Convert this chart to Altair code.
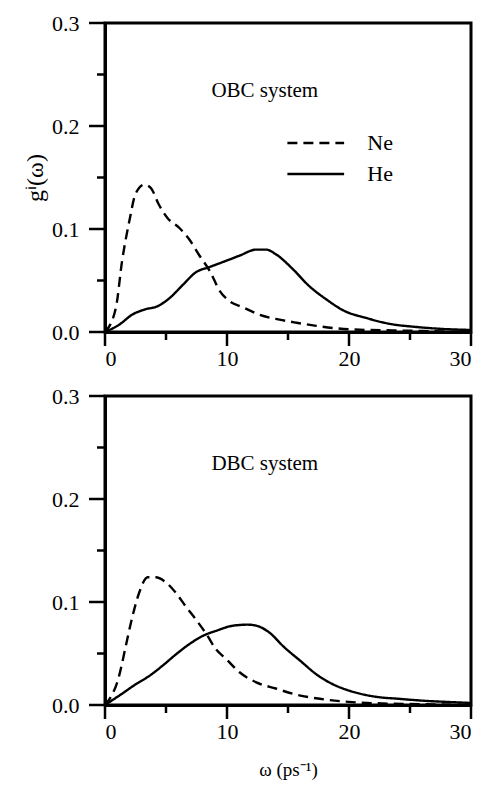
import altair as alt
import pandas as pd

FONT = "Liberation Serif"

# ---- data ----
x_major = [0, 10, 20, 30]
x_minor = [5, 15, 25]
y_major = [0.0, 0.1, 0.2, 0.3]
y_minor = [0.05, 0.15, 0.25]
series_names = ["Ne", "He"]
panel_labels = ["OBC system", "DBC system"]

ne_obc_w = [0, 0.9, 1.4, 2.0, 2.5, 3.2, 3.75, 4.4, 5.1, 6.1, 6.9, 7.7, 8.6, 9.4, 10.2, 11.3, 12.6, 14.3, 15.7, 17.3, 20.0, 22.7, 25.0, 30.0]
ne_obc_g = [0, 0.024, 0.069, 0.108, 0.134, 0.143, 0.140, 0.124, 0.111, 0.101, 0.090, 0.075, 0.059, 0.040, 0.030, 0.024, 0.017, 0.012, 0.009, 0.006, 0.0026, 0.0018, 0.0012, 0.0]

he_obc_w = [0, 1.15, 2.25, 3.3, 4.3, 5.3, 6.4, 7.45, 8.55, 9.9, 11.0, 12.4, 13.2, 14.0, 15.4, 16.7, 18.1, 19.7, 21.3, 23.3, 25.4, 27.6, 30.0]
he_obc_g = [0, 0.007, 0.017, 0.022, 0.025, 0.033, 0.046, 0.058, 0.063, 0.069, 0.074, 0.080, 0.080, 0.0755, 0.061, 0.045, 0.032, 0.020, 0.014, 0.008, 0.005, 0.003, 0.002]

ne_dbc_w = [0, 1.15, 1.7, 2.25, 2.8, 3.5, 4.15, 5.0, 5.8, 6.6, 7.45, 8.3, 9.1, 9.9, 11.0, 12.4, 14.0, 15.7, 17.3, 20.0, 22.7, 25.0, 30.0]
ne_dbc_g = [0, 0.028, 0.057, 0.086, 0.109, 0.124, 0.124, 0.119, 0.109, 0.096, 0.083, 0.069, 0.054, 0.045, 0.032, 0.022, 0.016, 0.010, 0.0065, 0.003, 0.0015, 0.001, 0.0]

he_dbc_w = [0, 1.4, 2.5, 3.6, 4.7, 5.8, 6.9, 8.0, 9.1, 10.5, 11.7, 12.4, 13.4, 14.7, 16.0, 17.3, 18.7, 20.0, 22.2, 24.1, 26.3, 28.0, 30.0]
he_dbc_g = [0, 0.011, 0.020, 0.028, 0.038, 0.049, 0.059, 0.067, 0.072, 0.077, 0.078, 0.077, 0.071, 0.056, 0.043, 0.030, 0.020, 0.014, 0.008, 0.006, 0.004, 0.003, 0.002]

# ---- layout / style constants ----
W, H = 366, 309
LABEL_POS = (13.1, 0.234)
LEG_X0, LEG_X1, LEG_XT = 14.95, 19.6, 21.5
LEG_Y = [0.1835, 0.1534]
XMAJ, YMAJ, MINOR = 14, 16, 8

dash_scale = alt.Scale(domain=series_names, range=[[10, 6], [1, 0]])
xs = alt.Scale(domain=[0, 30], nice=False, zero=False)
ys = alt.Scale(domain=[0, 0.3], nice=False)


def make_panel(ne_w, ne_g, he_w, he_g, label, legend, xtitle, ytitle):
    xax = alt.Axis(values=x_major, ticks=False, labelPadding=XMAJ + 2, title=xtitle,
                   labelFont=FONT, labelFontSize=22, labelColor="black",
                   titleFont=FONT, titleFontSize=19, titleFontWeight="normal",
                   titleColor="black", titlePadding=18)
    yax = alt.Axis(values=y_major, format=".1f", ticks=False, labelPadding=YMAJ + 10, title=ytitle,
                   labelFont=FONT, labelFontSize=22, labelColor="black",
                   titleFont=FONT, titleFontSize=24, titleFontWeight="normal",
                   titleColor="black", titlePadding=4)

    def X(field):
        return alt.X(field, type="quantitative", scale=xs, axis=xax)

    def Y(field):
        return alt.Y(field, type="quantitative", scale=ys, axis=yax)

    df = pd.concat([
        pd.DataFrame({"w": ne_w, "g": ne_g, "series": "Ne"}),
        pd.DataFrame({"w": he_w, "g": he_g, "series": "He"}),
    ])
    lines = alt.Chart(df).mark_line(color="black", strokeWidth=2.4, interpolate="monotone").encode(
        x=X("w"), y=Y("g"),
        strokeDash=alt.StrokeDash("series:N", scale=dash_scale, legend=None),
    )
    tick_style = dict(color="black", strokeWidth=2.5)
    xt_major = alt.Chart(pd.DataFrame({"wm": x_major})).mark_rule(**tick_style).encode(
        x=X("wm"), y=alt.value(H), y2=alt.value(H + XMAJ))
    xt_minor = alt.Chart(pd.DataFrame({"w": x_minor})).mark_rule(**tick_style).encode(
        x=X("w"), y=alt.value(H), y2=alt.value(H + MINOR))
    yt_major = alt.Chart(pd.DataFrame({"gm": y_major})).mark_rule(**tick_style).encode(
        y=Y("gm"), x=alt.value(0), x2=alt.value(-YMAJ))
    yt_minor = alt.Chart(pd.DataFrame({"g": y_minor})).mark_rule(**tick_style).encode(
        y=Y("g"), x=alt.value(0), x2=alt.value(-MINOR))
    lab = alt.Chart(pd.DataFrame({"w": [LABEL_POS[0]], "g": [LABEL_POS[1]], "t": [label]})).mark_text(
        font=FONT, fontSize=21, align="center", baseline="middle", color="black"
    ).encode(x=X("w"), y=Y("g"), text="t:N")
    layers = [lines, xt_minor, yt_minor, lab]
    if legend:
        ldf = pd.DataFrame({"w": [LEG_X0] * 2, "w1": [LEG_X1] * 2, "wt": [LEG_XT] * 2,
                            "g": LEG_Y, "series": series_names})
        rules = alt.Chart(ldf).mark_rule(color="black", strokeWidth=2.6).encode(
            x=X("w"), x2="w1", y=Y("g"),
            strokeDash=alt.StrokeDash("series:N", scale=dash_scale, legend=None),
        )
        ltxt = alt.Chart(ldf).mark_text(font=FONT, fontSize=22, align="left", baseline="middle",
                                        color="black").encode(x=X("wt"), y=Y("g"), text="series:N")
        layers += [rules, ltxt]
    layers += [xt_major, yt_major]
    return alt.layer(*layers).properties(width=W, height=H)


top = make_panel(ne_obc_w, ne_obc_g, he_obc_w, he_obc_g, panel_labels[0], True, None, "gⁱ(ω)")
bottom = make_panel(ne_dbc_w, ne_dbc_g, he_dbc_w, he_dbc_g, panel_labels[1], False, "ω (ps⁻¹)", None)

chart = alt.vconcat(top, bottom, spacing=12).properties(
    padding={"left": 22, "top": 10, "right": 8, "bottom": 0}
).configure_view(stroke="black", strokeWidth=3).configure_axis(
    domain=True, domainColor="black", domainWidth=3, grid=False, ticks=False,
    labelFont=FONT, labelFontSize=22, labelColor="black", titleColor="black", titleFont=FONT,
)

chart.save("out.html", embed_options={"renderer": "svg", "actions": False})
